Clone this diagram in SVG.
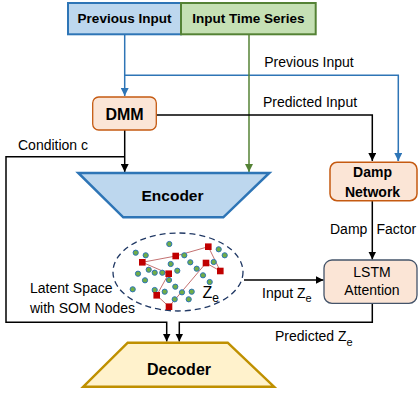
<svg xmlns="http://www.w3.org/2000/svg" width="419" height="394" viewBox="0 0 419 394">
<defs>
<marker id="ab" viewBox="0 0 8 8" refX="8" refY="4" markerWidth="8" markerHeight="8" markerUnits="userSpaceOnUse" orient="auto"><path d="M0,0 L8,4 L0,8 Z" fill="#000"/></marker>
<marker id="abl" viewBox="0 0 8 8" refX="8" refY="4" markerWidth="8" markerHeight="8" markerUnits="userSpaceOnUse" orient="auto"><path d="M0,0 L8,4 L0,8 Z" fill="#2e75b6"/></marker>
<marker id="agr" viewBox="0 0 8 8" refX="8" refY="4" markerWidth="8" markerHeight="8" markerUnits="userSpaceOnUse" orient="auto"><path d="M0,0 L8,4 L0,8 Z" fill="#548235"/></marker>
</defs>
<style>
text{font-family:"Liberation Sans",Arial,sans-serif;fill:#000}
.b{font-weight:bold}
.t{font-size:14px}
.c{stroke:#000;stroke-width:1.5;fill:none}
.cb{stroke:#2e75b6;stroke-width:1.5;fill:none}
.cg{stroke:#548235;stroke-width:1.5;fill:none}
.dot{fill:#70ad47;stroke:#2e75b6;stroke-width:1}
.sq{fill:#c00000}
.som{stroke:#b04545;stroke-width:0.9;fill:none;opacity:0.85}
</style>

<g id="connectors">
<path class="cb" d="M124.7,34 V96" marker-end="url(#abl)"/>
<path class="cb" d="M124.7,75.3 H398.3 V161"/>
<path class="cb" d="M398.3,150 V161" marker-end="url(#abl)"/>
<path class="cg" d="M249,34 V172" marker-end="url(#agr)"/>
<path class="c" d="M156.3,115 H372.3 V161" marker-end="url(#ab)"/>
<path class="c" d="M124.7,130 V172" marker-end="url(#ab)"/>
<path class="c" d="M124.7,156.7 H6 V322.3 H166.7 V341.5" marker-end="url(#ab)"/>
<path class="c" d="M372.3,201 V259.5" marker-end="url(#ab)"/>
<path class="c" d="M244,280 H323.5" marker-end="url(#ab)"/>
<path class="c" d="M372.3,303.5 V322.3 H179.3 V341.5" marker-end="url(#ab)"/>
<text x="309" y="66.5" class="t" text-anchor="middle">Previous Input</text>
<text x="310" y="107" class="t" text-anchor="middle">Predicted Input</text>
<text x="18" y="150" class="t">Condition c</text>
<text x="330" y="233.5" class="t">Damp</text>
<text x="376.5" y="233.5" class="t">Factor</text>
<text x="262" y="297.5" class="t">Input Z<tspan font-size="11" dy="4.5">e</tspan></text>
<text x="275" y="341" class="t">Predicted Z<tspan font-size="11" dy="4.5">e</tspan></text>
</g>

<g id="previous-input">
<rect x="68" y="3" width="113" height="31.3" fill="#bdd7ee" stroke="#2e75b6" stroke-width="2"/>
<text x="124.5" y="22.5" class="b" font-size="13.5" text-anchor="middle">Previous Input</text>
</g>
<g id="input-time-series">
<rect x="181" y="3" width="134.7" height="31.3" fill="#c5e0b4" stroke="#548235" stroke-width="2"/>
<text x="248.5" y="22.5" class="b" font-size="13.5" text-anchor="middle">Input Time Series</text>
</g>

<g id="dmm">
<rect x="92.7" y="97" width="63.6" height="33" rx="6" fill="#fbe5d6" stroke="#c55a11" stroke-width="1.3"/>
<text x="124.5" y="120" class="b" font-size="16" text-anchor="middle">DMM</text>
</g>

<g id="encoder">
<path d="M78.3,173 H269.3 L223.3,217.3 H123.3 Z" fill="#bdd7ee" stroke="#2e75b6" stroke-width="2.5" stroke-linejoin="miter"/>
<text x="172.5" y="201" class="b" font-size="15.5" text-anchor="middle">Encoder</text>
</g>

<g id="damp-network">
<rect x="330" y="162.3" width="87" height="38.4" rx="7" fill="#fbe5d6" stroke="#c55a11" stroke-width="1.5"/>
<text x="372.5" y="176.5" class="b" font-size="14" text-anchor="middle">Damp</text>
<text x="372.5" y="196.5" class="b" font-size="14" text-anchor="middle">Network</text>
</g>

<g id="lstm-attention">
<rect x="324" y="260" width="93" height="43.3" rx="8" fill="#fbe5d6" stroke="#44546a" stroke-width="1.3"/>
<text x="372" y="276.7" class="t" text-anchor="middle">LSTM</text>
<text x="372" y="295" class="t" text-anchor="middle">Attention</text>
</g>

<g id="latent-space">
<ellipse cx="178" cy="272" rx="65" ry="39" fill="none" stroke="#203864" stroke-width="1.3" stroke-dasharray="6,4"/>
<path class="som" d="M142.3,262.3 L175.7,256 L208.3,246.7 L220.3,271 L206,263 L169,306.7 L156.7,295.3 L168.7,273.7 L142.3,262.3"/>
<g>
<circle class="dot" cx="169.3" cy="244" r="2.6"/>
<circle class="dot" cx="135.7" cy="252.7" r="2.6"/>
<circle class="dot" cx="145.7" cy="255.3" r="2.6"/>
<circle class="dot" cx="184.3" cy="255.3" r="2.6"/>
<circle class="dot" cx="218.7" cy="249.3" r="2.6"/>
<circle class="dot" cx="224.7" cy="255.3" r="2.6"/>
<circle class="dot" cx="170.7" cy="264" r="2.6"/>
<circle class="dot" cx="190.3" cy="262.3" r="2.6"/>
<circle class="dot" cx="213.7" cy="262" r="2.6"/>
<circle class="dot" cx="148.7" cy="269.7" r="2.6"/>
<circle class="dot" cx="138" cy="273.7" r="2.6"/>
<circle class="dot" cx="154.7" cy="272.7" r="2.6"/>
<circle class="dot" cx="162.3" cy="272.7" r="2.6"/>
<circle class="dot" cx="177.3" cy="270.7" r="2.6"/>
<circle class="dot" cx="196.7" cy="268.7" r="2.6"/>
<circle class="dot" cx="203" cy="275.3" r="2.6"/>
<circle class="dot" cx="145" cy="280.3" r="2.6"/>
<circle class="dot" cx="169" cy="280" r="2.6"/>
<circle class="dot" cx="209.7" cy="282" r="2.6"/>
<circle class="dot" cx="132.7" cy="289.3" r="2.6"/>
<circle class="dot" cx="154.7" cy="290" r="2.6"/>
<circle class="dot" cx="164.7" cy="291.7" r="2.6"/>
<circle class="dot" cx="175.3" cy="286.7" r="2.6"/>
<circle class="dot" cx="182" cy="292.3" r="2.6"/>
<circle class="dot" cx="191.7" cy="291.7" r="2.6"/>
<circle class="dot" cx="174.7" cy="299.3" r="2.6"/>
<circle class="dot" cx="188.7" cy="299.3" r="2.6"/>
</g>
<g>
<rect class="sq" x="139" y="259" width="6.6" height="6.6"/>
<rect class="sq" x="172.4" y="252.7" width="6.6" height="6.6"/>
<rect class="sq" x="205" y="243.4" width="6.6" height="6.6"/>
<rect class="sq" x="165.4" y="270.4" width="6.6" height="6.6"/>
<rect class="sq" x="202.7" y="259.7" width="6.6" height="6.6"/>
<rect class="sq" x="217" y="267.7" width="6.6" height="6.6"/>
<rect class="sq" x="153.4" y="292" width="6.6" height="6.6"/>
<rect class="sq" x="165.7" y="303.4" width="6.6" height="6.6"/>
</g>
<text x="202.5" y="297.5" font-size="16">Z<tspan font-size="12" dy="4.5">e</tspan></text>
<text x="30" y="292.5" class="t">Latent Space</text>
<text x="30" y="313" class="t">with SOM Nodes</text>
</g>

<g id="decoder">
<path d="M127.7,342.7 H227.7 L274,386.7 H83.3 Z" fill="#fff2cc" stroke="#bf9000" stroke-width="2.5"/>
<text x="179" y="375" class="b" font-size="16" text-anchor="middle">Decoder</text>
</g>
</svg>
